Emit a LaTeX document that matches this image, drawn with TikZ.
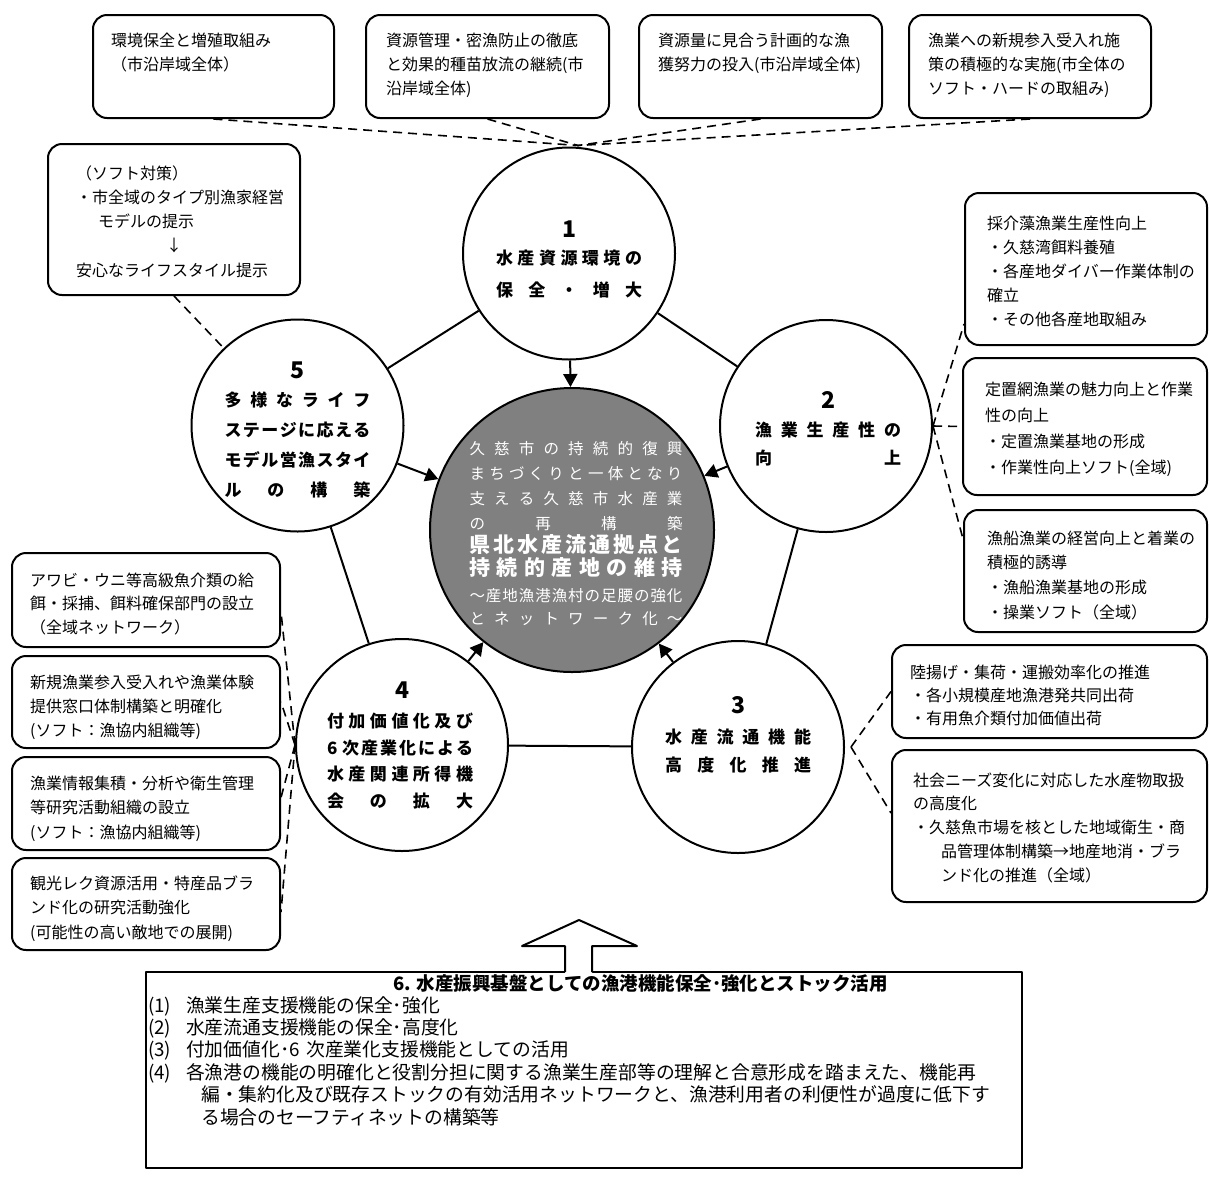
\documentclass[tikz,border=0pt]{standalone}
\usepackage{fontspec}
\setmainfont{Noto Sans CJK JP}
\newfontfamily\goth{Noto Sans CJK JP}
\usetikzlibrary{arrows.meta,calc}
\definecolor{cgray}{RGB}{128,128,128}
\makeatletter
\newcommand\jsp[2]{\makebox[#1][s]{\let\jsp@sep\relax\@tfor\jsp@c:=#2\do{\jsp@sep\jsp@c\let\jsp@sep\hfill}}}
\makeatother
\newcommand\fs[2]{\fontsize{#1}{#2}\selectfont}
\tikzset{
  rbox/.style={draw, line width=2pt, rounded corners=14pt, inner sep=0pt},
  circ/.style={draw, circle, line width=2pt, minimum size=212pt, inner sep=0pt, fill=white},
  btext/.style={anchor=base west, inner sep=0pt, align=left, text width=320pt},
  ctext/.style={anchor=base, inner sep=0pt, align=center, text width=146pt},
  cnum/.style={anchor=base, inner sep=0pt, font=\goth\bfseries\fs{23}{23}},
  dline/.style={dash pattern=on 9pt off 6pt, line width=1.6pt},
  sline/.style={line width=2pt},
  arr/.style={line width=2pt, -{Triangle[length=13pt,width=14pt]}}
}
\newcommand\rbx[5]{\node[rbox, minimum width={#4-#2}, minimum height={#5-#3}] (#1) at ({(#2+#4)/2},{(#3+#5)/2}) {};}
\begin{document}
\begin{tikzpicture}[x=1pt,y=-1pt,line join=round]
\useasboundingbox (0,0) rectangle (1209,1176);
% top boxes
\rbx{T1}{93}{15}{334}{118}
\rbx{T2}{366}{15}{609}{118}
\rbx{T3}{639}{15}{882}{118}
\rbx{T4}{909}{15}{1151}{118}
\rbx{T5}{48}{144}{300}{295}
% right boxes
\rbx{R1}{965}{193}{1207}{345}
\rbx{R2}{963}{358}{1207}{495}
\rbx{R3}{964}{510}{1207}{632}
\rbx{R4}{892}{645}{1207}{738}
\rbx{R5}{892}{750}{1207}{902}
% left boxes
\rbx{L1}{12}{553}{280}{647}
\rbx{L2}{12}{656}{280}{748}
\rbx{L3}{12}{757}{280}{850}
\rbx{L4}{12}{858}{280}{950}
% box texts
\node[btext, font=\fs{16}{24}] (t1x) at (111,46) {環境保全と増殖取組み\\（市沿岸域全体）};
\node[btext, font=\fs{16}{24}] (t2x) at (386,46) {資源管理・密漁防止の徹底\\と効果的種苗放流の継続(市\\沿岸域全体)};
\node[btext, font=\fs{16}{24}] (t3x) at (658,46) {資源量に見合う計画的な漁\\獲努力の投入(市沿岸域全体)};
\node[btext, font=\fs{16}{24}] (t4x) at (928,46) {漁業への新規参入受入れ施\\策の積極的な実施(市全体の\\ソフト・ハードの取組み)};
\node[btext, font=\fs{16}{24.3}] (t5x) at (76,179) {（ソフト対策）\\・市全域のタイプ別漁家経営\\\hspace*{22pt}モデルの提示\\\hspace*{90pt}↓\\安心なライフスタイル提示};
\node[btext, font=\fs{16}{24}] (r1x) at (987,229) {採介藻漁業生産性向上\\・久慈湾餌料養殖\\・各産地ダイバー作業体制の\\確立\\・その他各産地取組み};
\node[btext, font=\fs{16}{26.3}] (r2x) at (985,395) {定置網漁業の魅力向上と作業\\性の向上\\・定置漁業基地の形成\\・作業性向上ソフト(全域)};
\node[btext, font=\fs{16}{24.7}] (r3x) at (987,544) {漁船漁業の経営向上と着業の\\積極的誘導\\・漁船漁業基地の形成\\・操業ソフト（全域）};
\node[btext, font=\fs{16}{23}] (r4x) at (910,678) {陸揚げ・集荷・運搬効率化の推進\\・各小規模産地漁港発共同出荷\\・有用魚介類付加価値出荷};
\node[btext, font=\fs{16}{23.75}] (r5x) at (913,786) {社会ニーズ変化に対応した水産物取扱\\の高度化\\・久慈魚市場を核とした地域衛生・商\\\hspace*{28pt}品管理体制構築→地産地消・ブラ\\\hspace*{28pt}ンド化の推進（全域）};
\node[btext, font=\fs{16}{23.5}] (l1x) at (30,586) {アワビ・ウニ等高級魚介類の給\\餌・採捕、餌料確保部門の設立\\（全域ネットワーク）};
\node[btext, font=\fs{16}{24}] (l2x) at (30,688) {新規漁業参入受入れや漁業体験\\提供窓口体制構築と明確化\\(ソフト：漁協内組織等)};
\node[btext, font=\fs{16}{24.5}] (l3x) at (30,789) {漁業情報集積・分析や衛生管理\\等研究活動組織の設立\\(ソフト：漁協内組織等)};
\node[btext, font=\fs{16}{24.5}] (l4x) at (30,889) {観光レク資源活用・特産品ブラ\\ンド化の研究活動強化\\(可能性の高い敵地での展開)};
% circles
\node[circ] (c1) at (569,253.5) {};
\node[circ] (c2) at (826,426) {};
\node[circ] (c3) at (738,747) {};
\node[circ] (c4) at (402,745) {};
\node[circ] (c5) at (297.5,425.5) {};
\node[circ, minimum size=284pt, fill=cgray] (cc) at (572,530) {};
% connector points
\coordinate (v1) at ($(c1.north)+(9,-1)$);
\coordinate (v3) at ($(c3.east)+(6,0)$);
% solid ring lines
\draw[sline] (c1) -- (c2);
\draw[sline] (c2) -- (c3);
\draw[sline] (c3) -- (c4);
\draw[sline] (c4) -- (c5);
\draw[sline] (c5) -- (c1);
% arrows to centre
\draw[arr] (c1) -- (cc);
\draw[arr] (c2) -- (cc);
\draw[arr] (c3) -- (cc);
\draw[arr] (c4) -- (cc);
\draw[arr] (c5) -- (cc);
% dashed connectors
\draw[dline] (T1.south) -- (v1);
\draw[dline] (T2.south) -- (v1);
\draw[dline] (T3.south) -- (v1);
\draw[dline] (T4.south) -- (v1);
\draw[dline] (T5.south) -- (c5);
\draw[dline] (c2.east) -- ([yshift=22pt]R1.south west);
\draw[dline] (c2.east) -- (R2.west);
\draw[dline] (c2.east) -- ([yshift=-30pt]R3.north west);
\draw[dline] (v3) -- (R4.west);
\draw[dline] (v3) -- ([yshift=13pt]R5.west);
\draw[dline] (c4.west) -- ([yshift=-12pt]L1.east);
\draw[dline] (c4.west) -- (L2.east);
\draw[dline] (c4.west) -- ([yshift=6pt]L3.east);
\draw[dline] (c4.west) -- ([yshift=-8pt]L4.east);
% circle texts
\node[cnum] (n1) at (569,237) {1};
\node[ctext, font=\goth\bfseries\fs{17}{32}] (c1x) at (569,264.5) {\jsp{146pt}{水産資源環境の}\\\jsp{146pt}{保全・増大}};
\node[cnum] (n2) at (828,408) {2};
\node[ctext, font=\goth\bfseries\fs{17}{28}] (c2x) at (828,436.5) {\jsp{146pt}{漁業生産性の}\\\jsp{146pt}{向上}};
\node[cnum] (n3) at (738,713) {3};
\node[ctext, font=\goth\bfseries\fs{17}{28}] (c3x) at (738,743.5) {\jsp{146pt}{水産流通機能}\\\jsp{146pt}{高度化推進}};
\node[cnum] (n4) at (402,698) {4};
\node[ctext, font=\goth\bfseries\fs{17}{26.7}] (c4x) at (400,727.5) {\jsp{146pt}{付加価値化及び}\\\jsp{146pt}{{6\,}次産業化による}\\\jsp{146pt}{水産関連所得機}\\\jsp{146pt}{会の拡大}};
\node[cnum] (n5) at (297,378) {5};
\node[ctext, font=\goth\bfseries\fs{17}{30}] (c5x) at (297.5,406.5) {\jsp{146pt}{多様なライフ}\\\jsp{146pt}{ステージに応える}\\\jsp{146pt}{モデル営漁スタイ}\\\jsp{146pt}{ルの構築}};
% centre texts
\node[ctext, text width=213pt, text=white, font=\goth\fs{15.5}{25}] (ca) at (576,454) {\jsp{213pt}{久慈市の持続的復興}\\\jsp{213pt}{まちづくりと一体となり}\\\jsp{213pt}{支える久慈市水産業}\\\jsp{213pt}{の再構築}};
\node[ctext, text width=213pt, text=white, font=\goth\bfseries\fs{21}{23.5}] (cb) at (576,552) {\jsp{213pt}{県北水産流通拠点と}\\\jsp{213pt}{持続的産地の維持}};
\node[ctext, text width=213pt, text=white, font=\goth\fs{15.5}{23}] (cx) at (576,601) {\jsp{213pt}{～産地漁港漁村の足腰の強化}\\\jsp{213pt}{とネットワーク化～}};
% bottom box
\node[draw, line width=2pt, minimum width=876pt, minimum height=196pt, inner sep=0pt] (B6) at (584,1070) {};
\fill[white] (565,975) -- (565,946) -- (522,946) -- (579,920) -- (637,946) -- (592,946) -- (592,975) -- cycle;
\draw[line width=2pt] (565,972) -- (565,946) -- (522,946) -- (579,920) -- (637,946) -- (592,946) -- (592,972);
\node[anchor=base west, inner sep=0pt, font=\goth\bfseries\fs{18.5}{22}] (b6t) at (393,990) {6. 水産振興基盤としての漁港機能保全･強化とストック活用};
\node[btext, text width=860pt, font=\goth\fs{18.8}{22.4}] (b6x) at (148,1012) {\makebox[38pt][l]{(1)}漁業生産支援機能の保全･強化\\\makebox[38pt][l]{(2)}水産流通支援機能の保全･高度化\\\makebox[38pt][l]{(3)}付加価値化･6 次産業化支援機能としての活用\\\makebox[38pt][l]{(4)}各漁港の機能の明確化と役割分担に関する漁業生産部等の理解と合意形成を踏まえた、機能再\\\hspace*{53pt}編・集約化及び既存ストックの有効活用ネットワークと、漁港利用者の利便性が過度に低下す\\\hspace*{53pt}る場合のセーフティネットの構築等};
\end{tikzpicture}
\end{document}
